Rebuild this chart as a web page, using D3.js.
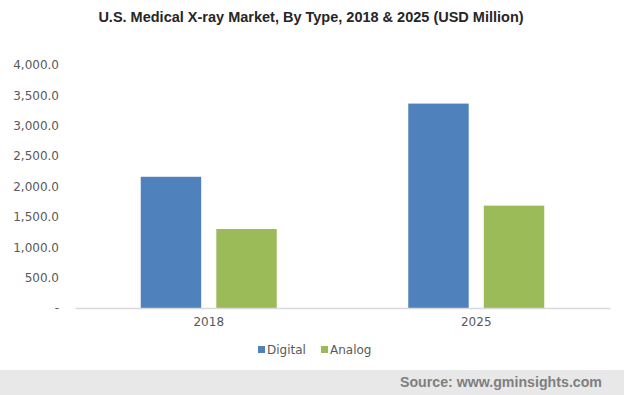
<!doctype html>
<html lang="en">
<head>
<meta charset="utf-8">
<script src="https://cdn.jsdelivr.net/npm/d3@7"></script>
<style>
  body { margin: 0; background: #fff; }
  svg text { font-family: "DejaVu Sans", Verdana, sans-serif; }
</style>
</head>
<body>
<div id="chart"></div>
<script>
  var years = ["2018", "2025"];
  var seriesNames = ["Digital", "Analog"];
  var digital = [2160, 3365];
  var analog = [1300, 1685];
  var yTicks = [0, 500, 1000, 1500, 2000, 2500, 3000, 3500, 4000];
  var colors = ["#4f81bd", "#9bbb59"];

  var W = 624, H = 395;
  var margin = {top: 65, right: 14, bottom: 87, left: 75};
  var width = W - margin.left - margin.right,
      height = H - margin.top - margin.bottom;

  var svg = d3.select("#chart").append("svg")
      .attr("width", W)
      .attr("height", H);

  // title
  svg.append("text")
      .attr("x", 311)
      .attr("y", 22)
      .attr("text-anchor", "middle")
      .style("font-family", "'Liberation Sans', Arial, sans-serif")
      .style("font-weight", "bold")
      .style("font-size", "14.5px")
      .attr("fill", "#262626")
      .text("U.S. Medical X-ray Market, By Type, 2018 & 2025 (USD Million)");

  var g = svg.append("g")
      .attr("transform", "translate(" + margin.left + "," + margin.top + ")");

  var x = d3.scaleBand().domain(years).range([0, width]);
  var x1 = d3.scaleBand().domain(seriesNames).range([0, 136]).paddingInner(16 / 76 * 0.95);
  var y = d3.scaleLinear().domain([0, 4000]).range([height, 0]);

  var fmt = d3.format(",.1f");
  var yAxis = g.append("g")
      .call(d3.axisLeft(y).tickValues(yTicks).tickSize(0).tickPadding(16)
        .tickFormat(function(d) { return d === 0 ? "-" : fmt(d); }));
  yAxis.select(".domain").remove();
  yAxis.selectAll("text").attr("fill", "#595959").style("font-size", "12px");

  var data = years.map(function(yr, i) {
    return {year: yr, values: [{name: "Digital", v: digital[i]}, {name: "Analog", v: analog[i]}]};
  });

  var groups = g.selectAll(".grp")
      .data(data)
      .join("g")
      .attr("transform", function(d) {
        return "translate(" + (x(d.year) + (x.bandwidth() - 136) / 2) + ",0)";
      });

  groups.selectAll("rect")
      .data(function(d) { return d.values; })
      .join("rect")
      .attr("x", function(d) { return x1(d.name); })
      .attr("width", x1.bandwidth())
      .attr("y", function(d) { return y(d.v); })
      .attr("height", function(d) { return height - y(d.v); })
      .attr("fill", function(d, i) { return colors[i]; });

  var xAxis = g.append("g")
      .attr("transform", "translate(0," + height + ")")
      .call(d3.axisBottom(x).tickSize(0).tickPadding(9));
  xAxis.select(".domain").attr("stroke", "#d9d9d9").attr("stroke-width", 1.5);
  xAxis.selectAll("text").attr("fill", "#595959").style("font-size", "12px");

  // legend
  var legend = svg.append("g").attr("transform", "translate(0,350)");
  var legX = [258, 321];
  seriesNames.forEach(function(n, i) {
    legend.append("rect")
        .attr("x", legX[i]).attr("y", -4)
        .attr("width", 7).attr("height", 7)
        .attr("fill", colors[i]);
    legend.append("text")
        .attr("x", legX[i] + 9).attr("y", 4)
        .attr("fill", "#595959")
        .style("font-size", "12px")
        .text(n);
  });

  // footer band
  svg.append("rect")
      .attr("x", 0).attr("y", 370)
      .attr("width", W).attr("height", 25)
      .attr("fill", "#e8e8e8");
  svg.append("text")
      .attr("x", 602).attr("y", 387)
      .attr("text-anchor", "end")
      .style("font-family", "'Liberation Sans', Arial, sans-serif")
      .style("font-weight", "bold")
      .style("font-size", "14.2px")
      .attr("fill", "#7f7f7f")
      .text("Source: www.gminsights.com");
</script>
</body>
</html>
